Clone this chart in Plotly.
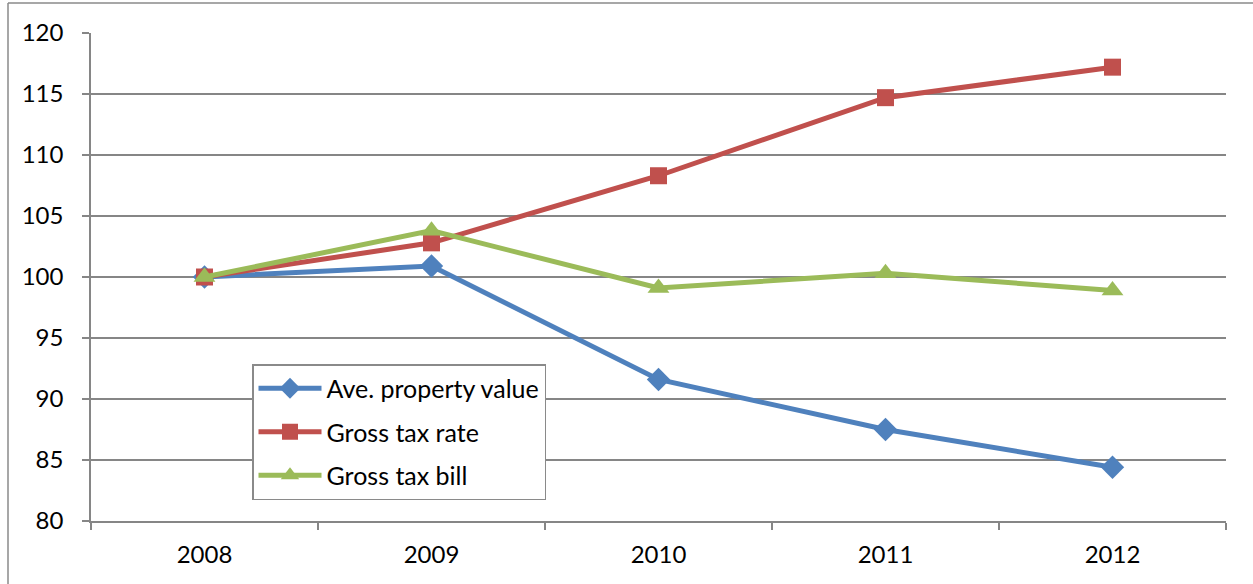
import plotly.graph_objects as go

# Index values (2008 = 100)
years = ["2008", "2009", "2010", "2011", "2012"]
ave_property_value = [100.0, 100.9, 91.6, 87.5, 84.4]
gross_tax_rate = [100.0, 102.8, 108.3, 114.7, 117.2]
gross_tax_bill = [100.0, 103.8, 99.1, 100.3, 98.9]
y_ticks = [80, 85, 90, 95, 100, 105, 110, 115, 120]

W, H = 1253, 584
ML, MR, MT, MB = 91, 27, 33, 63

series = [
    ("Ave. property value", ave_property_value, "#4F81BD", "diamond", 18),
    ("Gross tax rate", gross_tax_rate, "#C0504D", "square", 17),
    ("Gross tax bill", gross_tax_bill, "#9BBB59", "triangle-up", 19),
]

fig = go.Figure()
for name, vals, color, sym, size in series:
    fig.add_trace(go.Scatter(
        x=years, y=vals, name=name, legendgroup=name, mode="lines+markers",
        line=dict(color=color, width=5),
        marker=dict(symbol=sym, size=size, color=color),
    ))

grid = "#868686"
font = "Lato, 'Open Sans', sans-serif"

fig.update_xaxes(
    type="category", range=[-0.5, 4.5], tickson="boundaries",
    ticks="outside", ticklen=7, tickcolor=grid, tickwidth=1.5,
    showline=True, linecolor=grid, linewidth=1.5,
    showgrid=False, zeroline=False,
    ticklabelstandoff=11,
    tickfont=dict(family=font, size=24, color="#000000"),
)
fig.update_yaxes(
    range=[80, 120], tickvals=y_ticks,
    ticks="outside", ticklen=7, tickcolor=grid, tickwidth=1.5,
    showline=True, linecolor=grid, linewidth=1.5,
    showgrid=True, gridcolor=grid, gridwidth=1.6, zeroline=False,
    ticklabelstandoff=14,
    tickfont=dict(family=font, size=24, color="#000000"),
)

pw = W - ML - MR
ph = H - MT - MB

def px_x(p):
    return (p - ML) / pw

def px_y(p):
    return (H - MB - p) / ph

# Outer chart frame (top and left edges visible)
fig.add_shape(type="line", xref="paper", yref="paper",
              x0=px_x(8), x1=px_x(W + 20), y0=px_y(3), y1=px_y(3),
              line=dict(color="#8a8a8a", width=1.5))
fig.add_shape(type="line", xref="paper", yref="paper",
              x0=px_x(8), x1=px_x(8), y0=px_y(3), y1=px_y(H + 20),
              line=dict(color="#8a8a8a", width=1.5))

fig.update_layout(
    width=W, height=H,
    margin=dict(l=ML, r=MR, t=MT, b=MB),
    paper_bgcolor="white", plot_bgcolor="white",
    showlegend=True,
    legend=dict(
        x=px_x(252), y=px_y(364), xanchor="left", yanchor="top",
        bgcolor="white", bordercolor="#8a8a8a", borderwidth=1.5,
        font=dict(family=font, size=25, color="#000000"),
        itemwidth=63, tracegroupgap=8,
    ),
)

fig.write_html("out.html")
